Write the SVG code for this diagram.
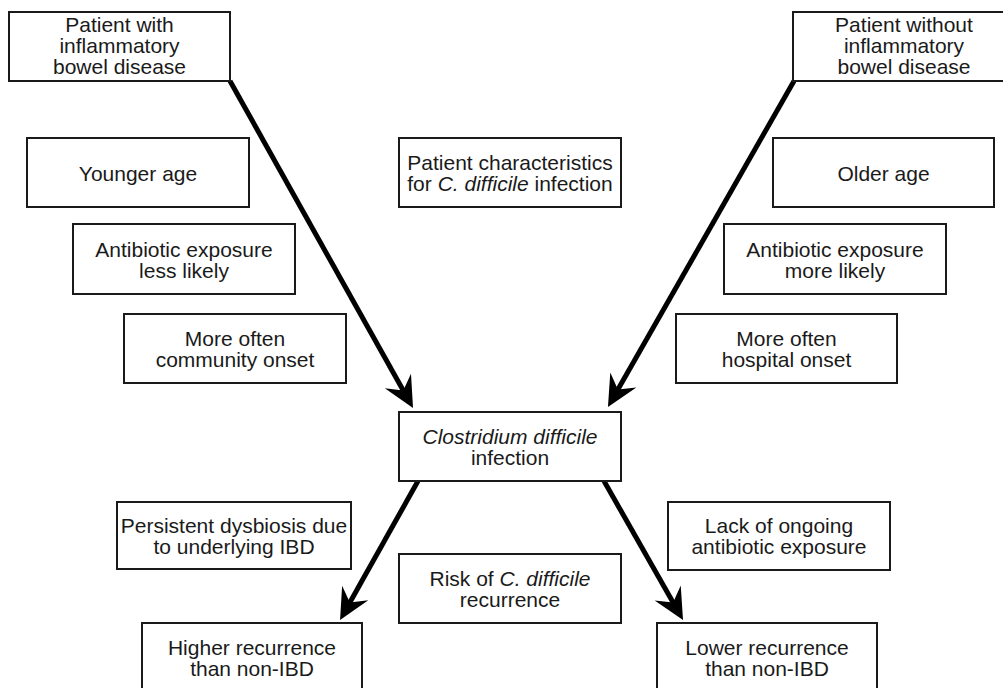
<svg xmlns="http://www.w3.org/2000/svg" width="1003" height="688" viewBox="0 0 1003 688">
<style>
.box{fill:#fff;stroke:#1a1a1a;stroke-width:2}
text{font-family:"Liberation Sans",Arial,Helvetica,sans-serif;font-size:21px;fill:#1a1a1a;text-anchor:middle}
.it{font-style:italic}
.conn{stroke:#000;stroke-width:5;fill:none;marker-end:url(#ah)}
</style>
<defs>
<marker id="ah" markerUnits="userSpaceOnUse" viewBox="-18 -16 34 32" markerWidth="34" markerHeight="32" refX="0" refY="0" orient="auto" overflow="visible">
<path d="M14,0 L-17,-15 L-6,0 L-17,15 Z" fill="#000"/>
</marker>
</defs>
<rect width="1003" height="688" fill="#fff"/>
<g id="connectors">
<line class="conn" x1="230" y1="81" x2="406.2" y2="395.8"/>
<line class="conn" x1="794" y1="81" x2="614.9" y2="394.8"/>
<line class="conn" x1="418" y1="481" x2="346.9" y2="607.8"/>
<line class="conn" x1="604" y1="481" x2="676.1" y2="607.8"/>
</g>
<g id="ibd">
<rect class="box" x="9" y="12" width="221" height="69"/>
<text x="119.5" y="32">Patient with</text>
<text x="119.5" y="53">inflammatory</text>
<text x="119.5" y="74">bowel disease</text>
</g>
<g id="nonibd">
<rect class="box" x="793" y="12" width="222" height="69"/>
<text x="904" y="32">Patient without</text>
<text x="904" y="53">inflammatory</text>
<text x="904" y="74">bowel disease</text>
</g>
<g id="younger">
<rect class="box" x="27" y="138" width="222" height="69"/>
<text x="138" y="181">Younger age</text>
</g>
<g id="characteristics">
<rect class="box" x="399" y="138" width="222" height="69"/>
<text x="510" y="170">Patient characteristics</text>
<text x="510" y="191">for <tspan class="it">C. difficile</tspan> infection</text>
</g>
<g id="older">
<rect class="box" x="773" y="138" width="221" height="69"/>
<text x="883.5" y="181">Older age</text>
</g>
<g id="abxless">
<rect class="box" x="73" y="224" width="222" height="70"/>
<text x="184" y="257">Antibiotic exposure</text>
<text x="184" y="278">less likely</text>
</g>
<g id="abxmore">
<rect class="box" x="724" y="224" width="222" height="70"/>
<text x="835" y="257">Antibiotic exposure</text>
<text x="835" y="278">more likely</text>
</g>
<g id="community">
<rect class="box" x="124" y="314" width="222" height="69"/>
<text x="235" y="346">More often</text>
<text x="235" y="367">community onset</text>
</g>
<g id="hospital">
<rect class="box" x="676" y="314" width="221" height="69"/>
<text x="786.5" y="346">More often</text>
<text x="786.5" y="367">hospital onset</text>
</g>
<g id="cdi">
<rect class="box" x="399" y="412" width="222" height="69"/>
<text x="510" y="444" class="it">Clostridium difficile</text>
<text x="510" y="465">infection</text>
</g>
<g id="dysbiosis">
<rect class="box" x="117" y="502" width="234" height="67"/>
<text x="234" y="533">Persistent dysbiosis due</text>
<text x="234" y="554">to underlying IBD</text>
</g>
<g id="lack">
<rect class="box" x="668" y="502" width="222" height="68"/>
<text x="779" y="533">Lack of ongoing</text>
<text x="779" y="554">antibiotic exposure</text>
</g>
<g id="risk">
<rect class="box" x="399" y="554" width="222" height="69"/>
<text x="510" y="586">Risk of <tspan class="it">C. difficile</tspan></text>
<text x="510" y="607">recurrence</text>
</g>
<g id="higher">
<rect class="box" x="142" y="623" width="220" height="69"/>
<text x="252" y="655">Higher recurrence</text>
<text x="252" y="676">than non-IBD</text>
</g>
<g id="lower">
<rect class="box" x="657" y="623" width="220" height="69"/>
<text x="767" y="655">Lower recurrence</text>
<text x="767" y="676">than non-IBD</text>
</g>
</svg>
